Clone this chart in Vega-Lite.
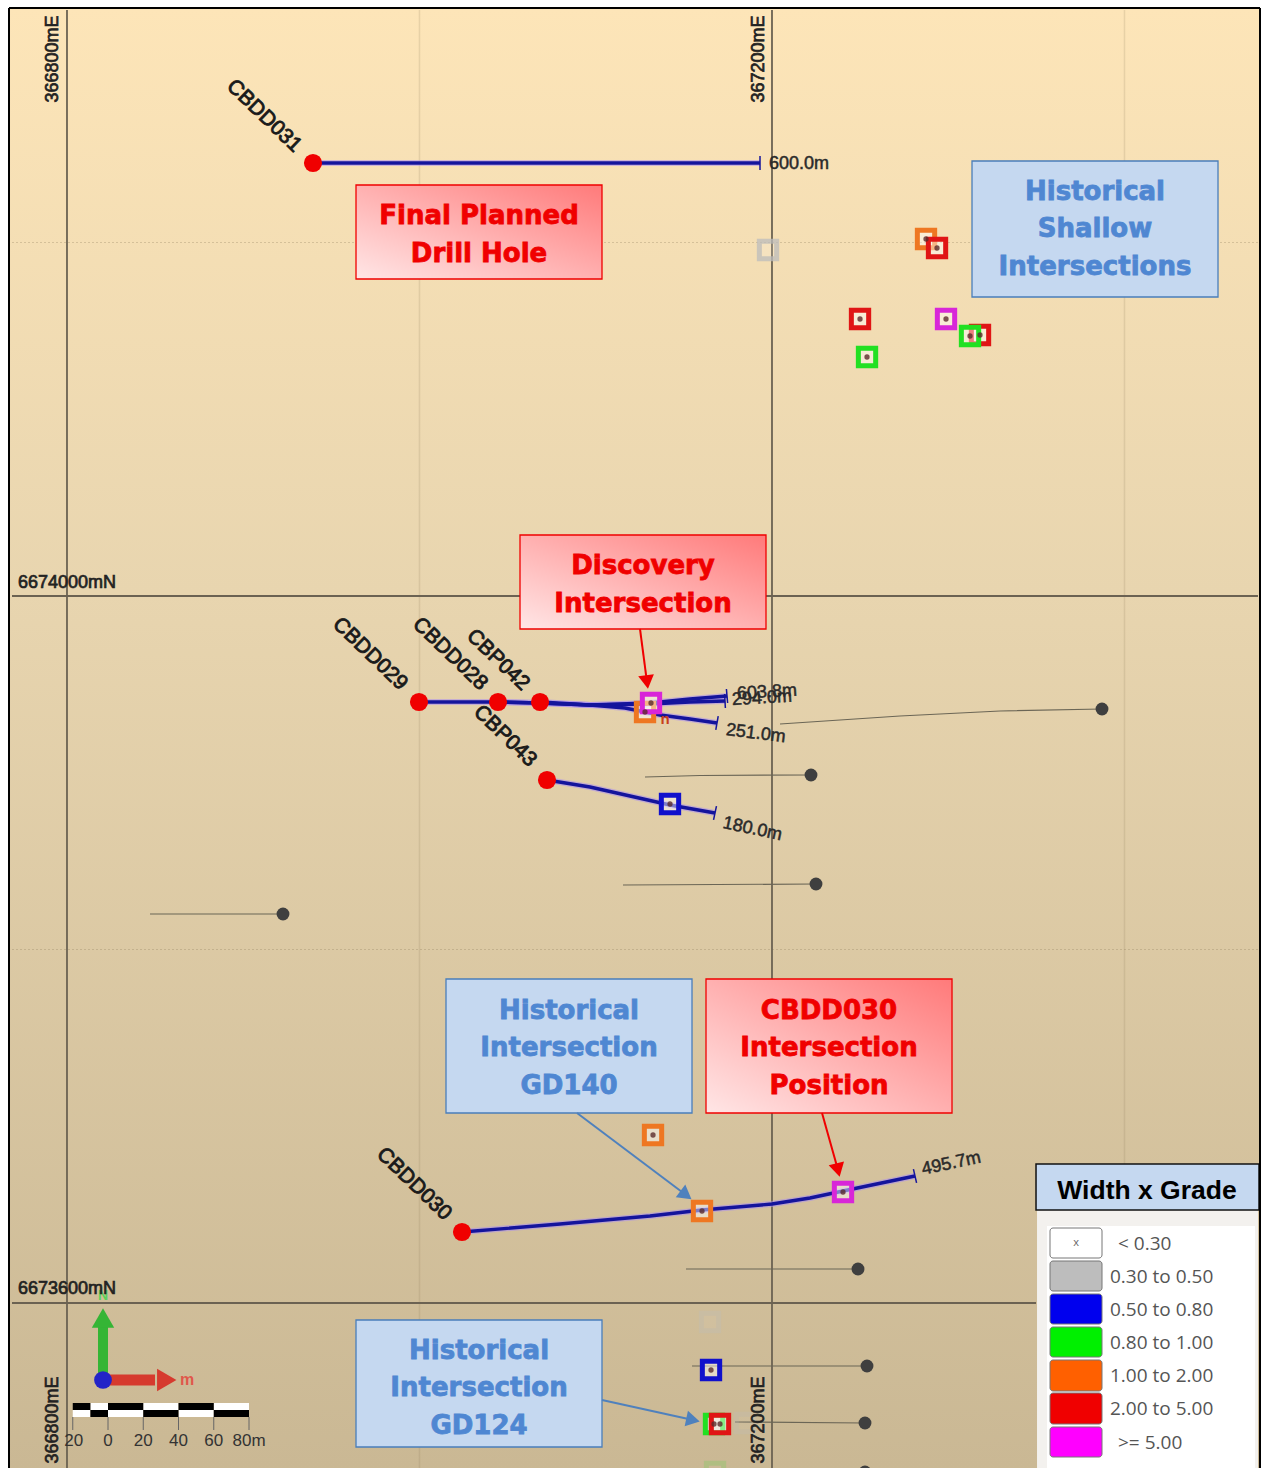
{"$schema":"https://vega.github.io/schema/vega-lite/v6.json","width":1261,"height":1468,"autosize":"none","padding":0,"background":"#ffffff","config":{"view":{"stroke":null}},
"datasets":{
"map":[{"e":366767.1,"n":6674332.67,"e2":367476.89,"n2":6673506.65}],
"minorV":[{"e":367000,"n":6674331.54,"e2":367000,"n2":6673506.65},{"e":367400,"n":6674331.54,"e2":367400,"n2":6673506.65}],
"minorH":[{"e":366768.8,"n":6674200,"e2":367475.75,"n2":6674200},{"e":366768.8,"n":6673800,"e2":367475.75,"n2":6673800}],
"majorGrid":[{"e":366800,"n":6674331.54,"e2":366800,"n2":6673506.65},{"e":367200,"n":6674331.54,"e2":367200,"n2":6673506.65},{"e":366768.8,"n":6674000,"e2":367475.75,"n2":6674000},{"e":366768.8,"n":6673600,"e2":367349.8,"n2":6673600}],
"histTraces":[
{"h":"a","o":1,"e":367387.24,"n":6673936.07},{"h":"a","o":2,"e":367329.37,"n":6673934.94},{"h":"a","o":3,"e":367272.63,"n":6673932.11},{"h":"a","o":4,"e":367204.55,"n":6673927.58},
{"h":"b","o":1,"e":367222.13,"n":6673898.73},{"h":"b","o":2,"e":367159.16,"n":6673898.45},{"h":"b","o":3,"e":367127.95,"n":6673897.6},
{"h":"c","o":1,"e":367224.97,"n":6673837.06},{"h":"c","o":2,"e":367115.47,"n":6673836.49},
{"h":"d","o":1,"e":366922.56,"n":6673820.09},{"h":"d","o":2,"e":366847.1,"n":6673820.09},
{"h":"f","o":1,"e":367248.8,"n":6673619.24},{"h":"f","o":2,"e":367151.21,"n":6673619.24},
{"h":"g","o":1,"e":367253.91,"n":6673564.36},{"h":"g","o":2,"e":367154.62,"n":6673564.36},
{"h":"i","o":1,"e":367252.77,"n":6673532.11},{"h":"i","o":2,"e":367179.01,"n":6673532.68}],
"histCollars":[{"e":367387.24,"n":6673936.07},{"e":367222.13,"n":6673898.73},{"e":367224.97,"n":6673837.06},{"e":366922.56,"n":6673820.09},{"e":367248.8,"n":6673619.24},{"e":367253.91,"n":6673564.36},{"e":367252.77,"n":6673532.11},{"e":367252.77,"n":6673504.39}],
"traces":[
{"h":"CBDD031","o":1,"e":366939.58,"n":6674244.98},{"h":"CBDD031","o":2,"e":367193.2,"n":6674244.98},
{"h":"CBDD029","o":1,"e":366999.72,"n":6673940.03},{"h":"CBDD029","o":2,"e":367044.55,"n":6673940.03},{"h":"CBDD029","o":3,"e":367068.38,"n":6673939.46},{"h":"CBDD029","o":4,"e":367096.74,"n":6673938.33},{"h":"CBDD029","o":5,"e":367130.79,"n":6673939.46},{"h":"CBDD029","o":6,"e":367153.48,"n":6673941.73},{"h":"CBDD029","o":7,"e":367174.48,"n":6673943.42},
{"h":"CBDD028","o":1,"e":367044.55,"n":6673940.03},{"h":"CBDD028","o":2,"e":367068.38,"n":6673939.46},{"h":"CBDD028","o":3,"e":367096.74,"n":6673938.33},{"h":"CBDD028","o":4,"e":367130.79,"n":6673938.9},{"h":"CBDD028","o":5,"e":367153.48,"n":6673940.03},{"h":"CBDD028","o":6,"e":367173.34,"n":6673940.59},
{"h":"CBP042","o":1,"e":367068.38,"n":6673940.03},{"h":"CBP042","o":2,"e":367096.74,"n":6673938.33},{"h":"CBP042","o":3,"e":367116.6,"n":6673936.63},{"h":"CBP042","o":4,"e":367136.46,"n":6673932.67},{"h":"CBP042","o":5,"e":367153.48,"n":6673930.41},{"h":"CBP042","o":6,"e":367168.8,"n":6673928.15},
{"h":"CBP043","o":1,"e":367072.35,"n":6673895.9},{"h":"CBP043","o":2,"e":367096.74,"n":6673891.94},{"h":"CBP043","o":3,"e":367119.44,"n":6673886.85},{"h":"CBP043","o":4,"e":367142.13,"n":6673881.76},{"h":"CBP043","o":5,"e":367167.67,"n":6673877.23},
{"h":"CBDD030","o":1,"e":367024.12,"n":6673640.17},{"h":"CBDD030","o":2,"e":367079.72,"n":6673644.7},{"h":"CBDD030","o":3,"e":367130.79,"n":6673649.22},{"h":"CBDD030","o":4,"e":367160.29,"n":6673652.62},{"h":"CBDD030","o":5,"e":367200.01,"n":6673656.01},{"h":"CBDD030","o":6,"e":367221.57,"n":6673659.41},{"h":"CBDD030","o":7,"e":367240.29,"n":6673663.37},{"h":"CBDD030","o":8,"e":367281.14,"n":6673671.85}],
"holeEnds":[{"e":367193.2,"n":6674244.98,"bearing":0},{"e":367174.48,"n":6673943.42,"bearing":-5},{"e":367173.34,"n":6673940.59,"bearing":-3},{"e":367168.8,"n":6673928.15,"bearing":10},{"e":367167.67,"n":6673877.23,"bearing":12},{"e":367281.14,"n":6673671.85,"bearing":-13}],
"collars":[{"e":366939.58,"n":6674244.98},{"e":366999.72,"n":6673940.03},{"e":367044.55,"n":6673940.03},{"e":367068.38,"n":6673940.03},{"e":367072.35,"n":6673895.9},{"e":367024.12,"n":6673640.17}],
"faded":[{"e":367197.74,"n":6674195.76,"wg":"0.30 to 0.50","op":0.75},{"e":367164.83,"n":6673589.25,"wg":"0.30 to 0.50","op":0.3},{"e":367184.69,"n":6673532.11,"wg":"0.30 to 0.50","op":0.25},{"e":367167.67,"n":6673504.39,"wg":"0.80 to 1.00","op":0.15}],
"squares":[
{"e":367287.38,"n":6674201.98,"wg":"1.00 to 2.00"},{"e":367293.63,"n":6674196.89,"wg":"2.00 to 5.00"},{"e":367249.94,"n":6674156.72,"wg":"2.00 to 5.00"},{"e":367298.73,"n":6674156.72,"wg":">= 5.00"},{"e":367318.02,"n":6674147.67,"wg":"2.00 to 5.00"},{"e":367312.35,"n":6674147.1,"wg":"0.80 to 1.00"},{"e":367253.91,"n":6674135.22,"wg":"0.80 to 1.00"},
{"e":367127.95,"n":6673934.37,"wg":"1.00 to 2.00"},{"e":367131.35,"n":6673939.46,"wg":">= 5.00"},{"e":367142.13,"n":6673882.32,"wg":"0.50 to 0.80"},{"e":367132.49,"n":6673695.05,"wg":"1.00 to 2.00"},{"e":367160.29,"n":6673652.05,"wg":"1.00 to 2.00"},{"e":367240.29,"n":6673662.8,"wg":">= 5.00"},{"e":367165.4,"n":6673562.1,"wg":"0.50 to 0.80"},{"e":367167.1,"n":6673531.54,"wg":"0.80 to 1.00"},{"e":367170.5,"n":6673531.54,"wg":"2.00 to 5.00"}],
"stray":[{"e":367139.3,"n":6673930.41,"t":"n"}],
"holeLabels":[
{"e":366911.78,"n":6674271.57,"t":"CBDD031","rot":44},{"e":366971.92,"n":6673967.19,"t":"CBDD029","rot":44},{"e":367017.31,"n":6673967.19,"t":"CBDD028","rot":44},{"e":367044.55,"n":6673963.79,"t":"CBP042","rot":44},{"e":367048.52,"n":6673920.79,"t":"CBP043","rot":44},{"e":366996.89,"n":6673667.33,"t":"CBDD030","rot":44}],
"depthLabels":[
{"e":367198.31,"n":6674244.4,"t":"600.0m","rot":0},{"e":367180.15,"n":6673944.6,"t":"603.8m","rot":-3},{"e":367177.31,"n":6673941.2,"t":"294.0m","rot":-3},{"e":367173.91,"n":6673924.2,"t":"251.0m","rot":7},{"e":367172.21,"n":6673871.6,"t":"180.0m","rot":12},{"e":367285.11,"n":6673675.3,"t":"495.7m","rot":-12}],
"gridLabelsV":[{"e":366792.3,"n":6674303.82,"t":"366800mE"},{"e":367192.9,"n":6674303.82,"t":"367200mE"},{"e":366792.3,"n":6673533.81,"t":"366800mE"},{"e":367192.9,"n":6673533.81,"t":"367200mE"}],
"gridLabelsH":[{"e":366800,"n":6674007.4,"t":"6674000mN"},{"e":366800,"n":6673607.9,"t":"6673600mN"}],
"redShafts":[{"e":367125.11,"n":6673981.33,"e2":367129.08,"n2":6673951.34},{"e":367228.38,"n":6673707.5,"e2":367237.45,"n2":6673675.25}],
"blueShafts":[{"e":367089.37,"n":6673707.5,"e2":367151.21,"n2":6673661.1},{"e":367103.55,"n":6673545.12,"e2":367155.18,"n2":6673533.81}],
"redHeads":[{"e":367129.08,"n":6673951.34,"heading":172},{"e":367237.45,"n":6673675.25,"heading":166}],
"blueHeads":[{"e":367151.21,"n":6673661.1,"heading":127},{"e":367155.18,"n":6673533.81,"heading":102}],
"redBoxes":[{"e":366963.98,"e2":367103.55,"n":6674232.53,"n2":6674179.35},{"e":367057.03,"e2":367196.6,"n":6674034.51,"n2":6673981.33},{"e":367162.56,"e2":367302.14,"n":6673783.31,"n2":6673707.5}],
"blueBoxes":[{"e":367313.48,"e2":367453.06,"n":6674246.11,"n2":6674169.17},{"e":367015.04,"e2":367154.62,"n":6673783.31,"n2":6673707.5},{"e":366963.98,"e2":367103.55,"n":6673590.38,"n2":6673518.53}],
"redText":[{"e":367033.77,"n":6674214.99,"t":"Final Planned"},{"e":367033.77,"n":6674193.49,"t":"Drill Hole"},{"e":367126.82,"n":6674016.97,"t":"Discovery"},{"e":367126.82,"n":6673995.47,"t":"Intersection"},{"e":367232.35,"n":6673765.2,"t":"CBDD030"},{"e":367232.35,"n":6673744.27,"t":"Intersection"},{"e":367232.35,"n":6673722.77,"t":"Position"}],
"blueText":[{"e":367383.27,"n":6674228.57,"t":"Historical"},{"e":367383.27,"n":6674207.64,"t":"Shallow"},{"e":367383.27,"n":6674186.14,"t":"Intersections"},{"e":367084.83,"n":6673765.2,"t":"Historical"},{"e":367084.83,"n":6673744.27,"t":"Intersection"},{"e":367084.83,"n":6673722.77,"t":"GD140"},{"e":367033.77,"n":6673572.84,"t":"Historical"},{"e":367033.77,"n":6673551.91,"t":"Intersection"},{"e":367033.77,"n":6673530.41,"t":"GD124"}],
"legendHeader":[{"e":367349.8,"e2":367476.32,"n":6673678.64,"n2":6673652.62}],
"legendPanel":[{"e":367350.37,"e2":367475.75,"n":6673652.62,"n2":6673506.65}],
"legendInner":[{"e":367356.04,"e2":367474.05,"n":6673643.57,"n2":6673506.65}],
"legendTitle":[{"e":367412.77,"n":6673663.4,"t":"Width x Grade"}],
"swatches":[
{"wg":"< 0.30","e":367357.74,"e2":367387.24,"n":6673642.43,"n2":6673625.46},
{"wg":"0.30 to 0.50","e":367357.74,"e2":367387.24,"n":6673623.76,"n2":6673606.79},
{"wg":"0.50 to 0.80","e":367357.74,"e2":367387.24,"n":6673605.09,"n2":6673588.12},
{"wg":"0.80 to 1.00","e":367357.74,"e2":367387.24,"n":6673586.42,"n2":6673569.45},
{"wg":"1.00 to 2.00","e":367357.74,"e2":367387.24,"n":6673567.75,"n2":6673550.21},
{"wg":"2.00 to 5.00","e":367357.74,"e2":367387.24,"n":6673549.08,"n2":6673531.54},
{"wg":">= 5.00","e":367357.74,"e2":367387.24,"n":6673529.85,"n2":6673512.87}],
"swatchText":[
{"t":"< 0.30","e":367396.32,"n":6673633.4},{"t":"0.30 to 0.50","e":367391.78,"n":6673614.7},{"t":"0.50 to 0.80","e":367391.78,"n":6673596.1},{"t":"0.80 to 1.00","e":367391.78,"n":6673577.4},{"t":"1.00 to 2.00","e":367391.78,"n":6673558.7},{"t":"2.00 to 5.00","e":367391.78,"n":6673540.1},{"t":">= 5.00","e":367396.32,"n":6673520.8}],
"swatchX":[{"t":"x","e":367372.49,"n":6673633.95}],
"northShaft":[{"e":366820.43,"n":6673556.44,"e2":366820.43,"n2":6673587.55}],
"eastShaft":[{"e":366820.43,"n":6673556.44,"e2":366849.93,"n2":6673556.44}],
"northHead":[{"e":366820.43,"n":6673591.52,"heading":0}],
"eastHead":[{"e":366856.6,"n":6673556.44,"heading":90}],
"origin":[{"e":366820.43,"n":6673556.44}],
"northLabel":[{"e":366820.43,"n":6673604.0,"t":"N"}],
"eastLabel":[{"e":366868.09,"n":6673556.44,"t":"m"}],
"scaleBlack":[{"e":366803.27,"e2":366813.27,"n":6673543.42,"n2":6673539.46},{"e":366823.27,"e2":366843.27,"n":6673543.42,"n2":6673539.46},{"e":366863.27,"e2":366883.27,"n":6673543.42,"n2":6673539.46},{"e":366813.27,"e2":366823.27,"n":6673539.46,"n2":6673535.5},{"e":366843.27,"e2":366863.27,"n":6673539.46,"n2":6673535.5},{"e":366883.27,"e2":366903.27,"n":6673539.46,"n2":6673535.5}],
"scaleWhite":[{"e":366813.27,"e2":366823.27,"n":6673543.42,"n2":6673539.46},{"e":366843.27,"e2":366863.27,"n":6673543.42,"n2":6673539.46},{"e":366883.27,"e2":366903.27,"n":6673543.42,"n2":6673539.46},{"e":366803.27,"e2":366813.27,"n":6673539.46,"n2":6673535.5},{"e":366823.27,"e2":366843.27,"n":6673539.46,"n2":6673535.5},{"e":366863.27,"e2":366883.27,"n":6673539.46,"n2":6673535.5}],
"scaleTicks":[{"e":366803.27,"e2":366803.27,"n":6673535.5,"n2":6673528.15},{"e":366823.27,"e2":366823.27,"n":6673535.5,"n2":6673528.15},{"e":366843.27,"e2":366843.27,"n":6673535.5,"n2":6673528.15},{"e":366863.27,"e2":366863.27,"n":6673535.5,"n2":6673528.15},{"e":366883.27,"e2":366883.27,"n":6673535.5,"n2":6673528.15},{"e":366903.27,"e2":366903.27,"n":6673535.5,"n2":6673528.15}],
"scaleLabels":[{"e":366803.8,"n":6673522.0,"t":"20"},{"e":366823.27,"n":6673522.0,"t":"0"},{"e":366843.27,"n":6673522.0,"t":"20"},{"e":366863.27,"n":6673522.0,"t":"40"},{"e":366883.27,"n":6673522.0,"t":"60"},{"e":366903.27,"n":6673522.0,"t":"80m"}],
"frame":[{"e":366767.1,"n":6674332.67,"e2":366767.1,"n2":6673506.65},{"e":366767.1,"n":6674332.67,"e2":367476.89,"n2":6674332.67},{"e":367476.89,"n":6674332.67,"e2":367476.89,"n2":6673506.65}]
},
"encoding":{
"x":{"field":"e","type":"quantitative","axis":null,"scale":{"domain":[366761.99,367477.45],"nice":false,"zero":false}},
"y":{"field":"n","type":"quantitative","axis":null,"scale":{"domain":[6673506.65,6674337.2],"nice":false,"zero":false}}},
"layer":[
{"data":{"name":"map"},"mark":{"type":"rect","fill":{"gradient":"linear","x1":0,"y1":0,"x2":0,"y2":1,"stops":[{"offset":0,"color":"#FDE5B8"},{"offset":0.4,"color":"#E8D5AF"},{"offset":1,"color":"#CAB894"}]}},"encoding":{"x2":{"field":"e2"},"y2":{"field":"n2"}}},
{"data":{"name":"minorV"},"mark":{"type":"rule","stroke":"#8a7a5a","strokeWidth":1.5,"opacity":0.18},"encoding":{"x2":{"field":"e2"},"y2":{"field":"n2"}}},
{"data":{"name":"minorH"},"mark":{"type":"rule","stroke":"#8a7a5a","strokeWidth":1,"opacity":0.3,"strokeDash":[2,2]},"encoding":{"x2":{"field":"e2"},"y2":{"field":"n2"}}},
{"data":{"name":"majorGrid"},"mark":{"type":"rule","stroke":"#6b6252","strokeWidth":1.8},"encoding":{"x2":{"field":"e2"},"y2":{"field":"n2"}}},
{"data":{"name":"histTraces"},"mark":{"type":"line","stroke":"#6b6656","strokeWidth":1.2},"encoding":{"detail":{"field":"h"},"order":{"field":"o"}}},
{"data":{"name":"histCollars"},"mark":{"type":"point","shape":"circle","filled":true,"fill":"#3f3f3f","opacity":1,"size":165}},
{"data":{"name":"traces"},"mark":{"type":"line","stroke":"#a98ef0","strokeWidth":6,"opacity":0.55},"encoding":{"detail":{"field":"h"},"order":{"field":"o"}}},
{"data":{"name":"traces"},"mark":{"type":"line","stroke":"#14149c","strokeWidth":3.4},"encoding":{"detail":{"field":"h"},"order":{"field":"o"}}},
{"data":{"name":"holeEnds"},"mark":{"type":"point","shape":"M0,-1L0,1","filled":false,"stroke":"#14149c","strokeWidth":1.5,"opacity":1,"size":196},"encoding":{"angle":{"field":"bearing","type":"quantitative","scale":null}}},
{"data":{"name":"faded"},"mark":{"type":"point","shape":"square","fill":"#ffffff","fillOpacity":0.2,"strokeWidth":5,"size":300},"encoding":{"stroke":{"field":"wg","type":"nominal","legend":null,"scale":{"domain":["0.30 to 0.50","0.50 to 0.80","0.80 to 1.00","1.00 to 2.00","2.00 to 5.00",">= 5.00"],"range":["#BDBDBD","#1010CC","#22E022","#EE7722","#E01515","#D826D8"]}},"opacity":{"field":"op","type":"quantitative","scale":null}}},
{"data":{"name":"stray"},"mark":{"type":"text","font":"Liberation Sans","fontWeight":"bold","fontSize":15,"fill":"#C8401A","align":"center","baseline":"middle"},"encoding":{"text":{"field":"t"}}},
{"data":{"name":"squares"},"mark":{"type":"point","shape":"square","fill":"#ffffff","fillOpacity":0.45,"opacity":1,"strokeWidth":5,"size":300},"encoding":{"stroke":{"field":"wg","type":"nominal","legend":null}}},
{"data":{"name":"squares"},"mark":{"type":"point","shape":"circle","filled":true,"fill":"#5a2a2a","opacity":0.8,"size":28}},
{"data":{"name":"collars"},"mark":{"type":"point","shape":"circle","filled":true,"fill":"#F00000","opacity":1,"size":330}},
{"data":{"name":"holeLabels"},"mark":{"type":"text","font":"Liberation Sans","fontSize":21,"fill":"#1a1a1a","stroke":"#1a1a1a","strokeWidth":0.9,"align":"center","baseline":"middle"},"encoding":{"text":{"field":"t"},"angle":{"field":"rot","type":"quantitative","scale":null}}},
{"data":{"name":"depthLabels"},"mark":{"type":"text","font":"Liberation Sans","fontSize":18,"fill":"#2a2a2a","stroke":"#2a2a2a","strokeWidth":0.5,"align":"left","baseline":"middle"},"encoding":{"text":{"field":"t"},"angle":{"field":"rot","type":"quantitative","scale":null}}},
{"data":{"name":"gridLabelsV"},"mark":{"type":"text","font":"Liberation Sans","fontSize":18,"fill":"#222222","stroke":"#222222","strokeWidth":0.7,"angle":270,"align":"center","baseline":"middle"},"encoding":{"text":{"field":"t"}}},
{"data":{"name":"redBoxes"},"mark":{"type":"rect","stroke":"#F00000","strokeWidth":1.3,"fill":{"gradient":"linear","x1":0,"y1":1,"x2":1,"y2":0,"stops":[{"offset":0,"color":"#FFE6E6"},{"offset":1,"color":"#FF7A7A"}]}},"encoding":{"x2":{"field":"e2"},"y2":{"field":"n2"}}},
{"data":{"name":"blueBoxes"},"mark":{"type":"rect","stroke":"#4A7EBB","strokeWidth":1.3,"fill":"#C5D8F0"},"encoding":{"x2":{"field":"e2"},"y2":{"field":"n2"}}},
{"data":{"name":"redShafts"},"mark":{"type":"rule","stroke":"#F00000","strokeWidth":2},"encoding":{"x2":{"field":"e2"},"y2":{"field":"n2"}}},
{"data":{"name":"blueShafts"},"mark":{"type":"rule","stroke":"#4F81BD","strokeWidth":2},"encoding":{"x2":{"field":"e2"},"y2":{"field":"n2"}}},
{"data":{"name":"redHeads"},"mark":{"type":"point","shape":"triangle-up","filled":true,"fill":"#F00000","opacity":1,"size":250},"encoding":{"angle":{"field":"heading","type":"quantitative","scale":null}}},
{"data":{"name":"blueHeads"},"mark":{"type":"point","shape":"triangle-up","filled":true,"fill":"#4F81BD","opacity":1,"size":250},"encoding":{"angle":{"field":"heading","type":"quantitative","scale":null}}},
{"data":{"name":"redText"},"mark":{"type":"text","font":"DejaVu Sans","fontWeight":"bold","fontSize":26,"fill":"#F00000","stroke":"#F00000","strokeWidth":0.8,"align":"center","baseline":"middle"},"encoding":{"text":{"field":"t"}}},
{"data":{"name":"blueText"},"mark":{"type":"text","font":"DejaVu Sans","fontWeight":"bold","fontSize":26,"fill":"#4F87D2","stroke":"#4F87D2","strokeWidth":0.8,"align":"center","baseline":"middle"},"encoding":{"text":{"field":"t"}}},
{"data":{"name":"legendPanel"},"mark":{"type":"rect","fill":"#F3F1EE"},"encoding":{"x2":{"field":"e2"},"y2":{"field":"n2"}}},
{"data":{"name":"legendInner"},"mark":{"type":"rect","fill":"#FFFFFF"},"encoding":{"x2":{"field":"e2"},"y2":{"field":"n2"}}},
{"data":{"name":"legendHeader"},"mark":{"type":"rect","fill":"#C5D8F0","stroke":"#111111","strokeWidth":1.5},"encoding":{"x2":{"field":"e2"},"y2":{"field":"n2"}}},
{"data":{"name":"legendTitle"},"mark":{"type":"text","font":"Liberation Sans","fontWeight":"bold","fontSize":26.5,"fill":"#000000","align":"center","baseline":"middle"},"encoding":{"text":{"field":"t"}}},
{"data":{"name":"swatches"},"mark":{"type":"rect","stroke":"#777777","strokeWidth":1,"cornerRadius":3},"encoding":{"x2":{"field":"e2"},"y2":{"field":"n2"},"fill":{"field":"wg","type":"nominal","legend":null,"sort":null,"scale":{"domain":["< 0.30","0.30 to 0.50","0.50 to 0.80","0.80 to 1.00","1.00 to 2.00","2.00 to 5.00",">= 5.00"],"range":["#FFFFFF","#BDBDBD","#0000EE","#00F000","#FF6000","#F00000","#FF00FF"]}}}},
{"data":{"name":"swatchX"},"mark":{"type":"text","font":"Open Sans","fontSize":11,"fill":"#666666","align":"center","baseline":"middle"},"encoding":{"text":{"field":"t"}}},
{"data":{"name":"swatchText"},"mark":{"type":"text","font":"Open Sans","fontSize":19,"fill":"#555555","align":"left","baseline":"middle"},"encoding":{"text":{"field":"t"}}},
{"data":{"name":"northShaft"},"mark":{"type":"rule","stroke":"#35B535","strokeWidth":10},"encoding":{"x2":{"field":"e2"},"y2":{"field":"n2"}}},
{"data":{"name":"northHead"},"mark":{"type":"point","shape":"triangle-up","filled":true,"fill":"#35B535","opacity":1,"size":500},"encoding":{"angle":{"field":"heading","type":"quantitative","scale":null}}},
{"data":{"name":"northLabel"},"mark":{"type":"text","font":"Liberation Sans","fontWeight":"bold","fontSize":14,"fill":"#5BD05B","align":"center","baseline":"middle"},"encoding":{"text":{"field":"t"}}},
{"data":{"name":"gridLabelsH"},"mark":{"type":"text","font":"Liberation Sans","fontSize":18,"fill":"#222222","stroke":"#222222","strokeWidth":0.7,"align":"center","baseline":"middle"},"encoding":{"text":{"field":"t"}}},
{"data":{"name":"eastShaft"},"mark":{"type":"rule","stroke":"#D63A2E","strokeWidth":11},"encoding":{"x2":{"field":"e2"},"y2":{"field":"n2"}}},
{"data":{"name":"eastHead"},"mark":{"type":"point","shape":"triangle-up","filled":true,"fill":"#D63A2E","opacity":1,"size":500},"encoding":{"angle":{"field":"heading","type":"quantitative","scale":null}}},
{"data":{"name":"eastLabel"},"mark":{"type":"text","font":"Liberation Sans","fontWeight":"bold","fontSize":16,"fill":"#E0574A","align":"center","baseline":"middle"},"encoding":{"text":{"field":"t"}}},
{"data":{"name":"origin"},"mark":{"type":"point","shape":"circle","filled":true,"fill":"#2323C8","opacity":1,"size":314}},
{"data":{"name":"scaleTicks"},"mark":{"type":"rule","stroke":"#666666","strokeWidth":1},"encoding":{"x2":{"field":"e2"},"y2":{"field":"n2"}}},
{"data":{"name":"scaleWhite"},"mark":{"type":"rect","fill":"#FFFFFF"},"encoding":{"x2":{"field":"e2"},"y2":{"field":"n2"}}},
{"data":{"name":"scaleBlack"},"mark":{"type":"rect","fill":"#000000"},"encoding":{"x2":{"field":"e2"},"y2":{"field":"n2"}}},
{"data":{"name":"scaleLabels"},"mark":{"type":"text","font":"Liberation Sans","fontSize":17,"fill":"#333333","align":"center","baseline":"middle"},"encoding":{"text":{"field":"t"}}},
{"data":{"name":"frame"},"mark":{"type":"rule","stroke":"#000000","strokeWidth":2},"encoding":{"x2":{"field":"e2"},"y2":{"field":"n2"}}}
]}
